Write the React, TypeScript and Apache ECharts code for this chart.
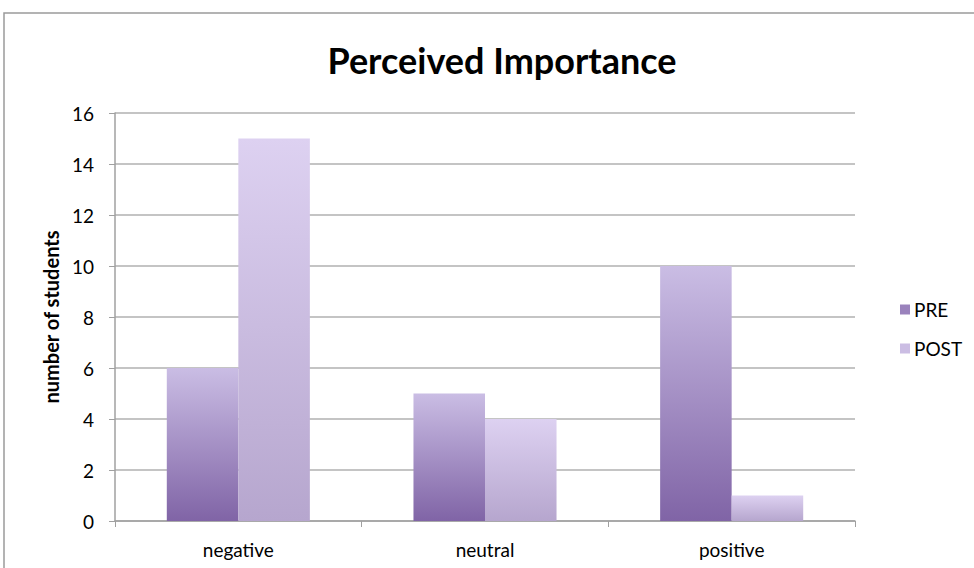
import React, { useEffect, useRef } from "react";
import * as echarts from "echarts";

const categories = ["negative", "neutral", "positive"];
const preValues = [6, 5, 10];
const postValues = [15, 4, 1];
const yTicks = { min: 0, max: 16, interval: 2 };

const FONT = "Lato, 'Open Sans', sans-serif";

export default function App() {
  const ref = useRef<HTMLDivElement>(null);
  useEffect(() => {
    if (!ref.current) return;
    const chart = echarts.init(ref.current, undefined, { renderer: "svg" });
    const preGrad = new echarts.graphic.LinearGradient(0, 0, 0, 1, [
      { offset: 0, color: "#cabde4" },
      { offset: 1, color: "#8064a6" },
    ]);
    const postGrad = new echarts.graphic.LinearGradient(0, 0, 0, 1, [
      { offset: 0, color: "#ddd1f1" },
      { offset: 1, color: "#b6a6ce" },
    ]);
    chart.setOption({
      animation: false,
      backgroundColor: "#ffffff",
      title: {
        text: "Perceived Importance",
        top: 37,
        left: 497,
        textAlign: "center",
        textStyle: { fontFamily: FONT, fontSize: 36, fontWeight: "bold", color: "#000" },
      },
      legend: {
        orient: "vertical",
        left: 895,
        top: 295,
        itemWidth: 10,
        itemHeight: 10,
        itemGap: 20,
        icon: "rect",
        textStyle: { fontFamily: FONT, fontSize: 19, color: "#000", padding: [0, 0, 0, -1] },
        data: [
          { name: "PRE", itemStyle: { color: "#9a82bc" } },
          { name: "POST", itemStyle: { color: "#cbbde3" } },
        ],
      },
      grid: { left: 115, right: 119, top: 113, bottom: 47, containLabel: false },
      xAxis: {
        type: "category",
        data: categories,
        axisLine: { lineStyle: { color: "#a0a0a0", width: 1.5 } },
        axisTick: { show: true, length: 6, lineStyle: { color: "#a0a0a0" } },
        axisLabel: { fontFamily: FONT, fontSize: 19, color: "#000", margin: 19 },
      },
      yAxis: {
        type: "value",
        min: yTicks.min,
        max: yTicks.max,
        interval: yTicks.interval,
        name: "number of students",
        nameLocation: "middle",
        nameGap: 53,
        nameTextStyle: { fontFamily: FONT, fontSize: 20, fontWeight: "bold", color: "#000" },
        axisLine: { show: true, lineStyle: { color: "#a0a0a0", width: 1.5 } },
        axisTick: { show: true, length: 6, lineStyle: { color: "#a0a0a0" } },
        axisLabel: { fontFamily: FONT, fontSize: 19, color: "#000", margin: 21 },
        splitLine: { lineStyle: { color: "#b0b0b0", width: 1.5 } },
      },
      graphic: [
        {
          type: "rect",
          shape: { x: 4, y: 13, width: 1000, height: 600 },
          style: { fill: "none", stroke: "#9a9a9a", lineWidth: 1.5 },
          silent: true,
        },
      ],
      series: [
        {
          name: "PRE",
          type: "bar",
          data: preValues,
          barGap: "0%",
          barCategoryGap: "42%",
          itemStyle: { color: preGrad },
        },
        {
          name: "POST",
          type: "bar",
          data: postValues,
          itemStyle: { color: postGrad },
        },
      ],
    });
    return () => chart.dispose();
  }, []);
  return (
    <div
      ref={ref}
      style={{ position: "fixed", left: 0, top: 0, width: 974, height: 568 }}
    />
  );
}
